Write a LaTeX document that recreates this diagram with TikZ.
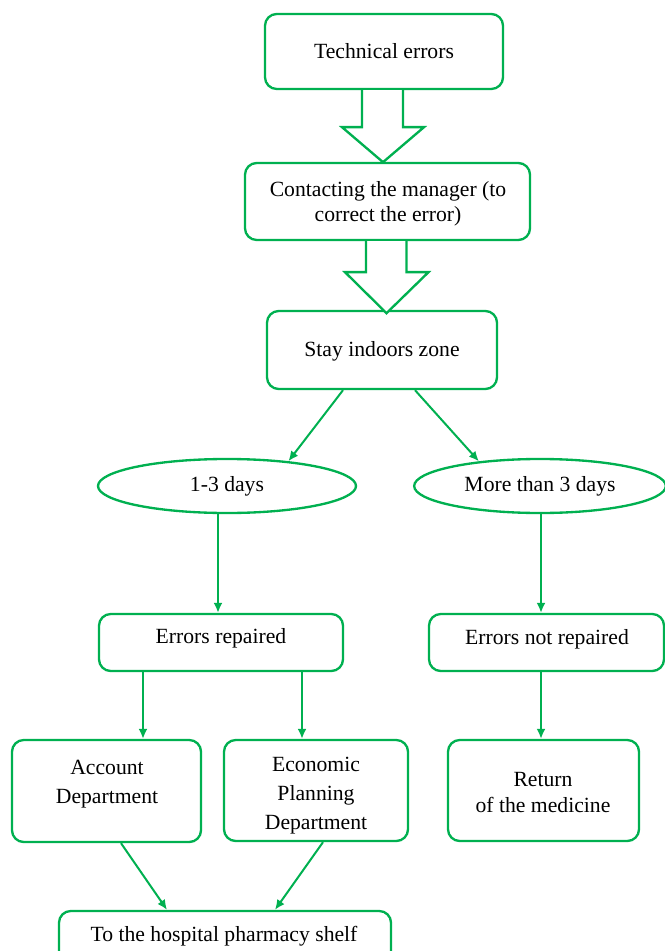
\documentclass[tikz,border=0pt]{standalone}
\usepackage{fontspec}
\setmainfont{Liberation Serif}
\usetikzlibrary{shapes.geometric,arrows.meta,fit,calc}
\definecolor{grn}{HTML}{00B050}
\tikzset{
  box/.style={draw=grn, line width=1.4pt, rounded corners=7pt, inner sep=0pt},
  oval/.style={draw=grn, line width=1.4pt, ellipse, inner sep=0pt, minimum width=154.8pt, minimum height=32.4pt, font=\fontsize{13}{15}\selectfont},
  txt/.style={font=\fontsize{13}{#1}\selectfont, align=center, inner sep=0pt},
  txt/.default=15,
  conn/.style={draw=grn, line width=1.2pt, -{Latex[length=6pt,width=5.4pt]}},
  hollow/.style={draw=grn, line width=1.4pt, fill=white, line join=miter},
}
\begin{document}
\begin{tikzpicture}[x=0.6pt,y=-0.6pt]
\useasboundingbox (0,0) rectangle (665,951);
% boxes
\node[box, fit={(265,14) (503,89)}] (b1) {};
\node[txt] (t1) at (384,51) {Technical errors};
\node[box, fit={(245,163) (530,240)}] (b2) {};
\node[txt] (t2) at (388,204) {Contacting the manager (to\\correct the error)};
\node[box, fit={(267,311) (497,389)}] (b3) {};
\node[txt] (t3) at (382,351) {Stay indoors zone};
\node[oval] (e1) at (227,486) {1-3 days};
\node[oval, minimum width=151pt] (e2) at (540,486) {More than 3 days};
\node[box, fit={(99,614) (343,671)}] (b4) {};
\node[txt] (t4) at (221,638) {Errors repaired};
\node[box, fit={(429,614) (664,671)}] (b5) {};
\node[txt] (t5) at (547,639) {Errors not repaired};
\node[box, fit={(12,740) (201,842)}] (b6) {};
\node[txt=17.4] (t6) at (107,784) {Account\\Department};
\node[box, fit={(224,740) (408,841)}] (b7) {};
\node[txt=17.4] (t7) at (316,796) {Economic\\Planning\\Department};
\node[box, fit={(448,740) (639,841)}] (b8) {};
\node[txt=15.6] (t8) at (543,793) {Return\\of the medicine};
\node[box, fit={(59,911) (391,975)}] (b9) {};
\node[txt] (t9) at (224,936) {To the hospital pharmacy shelf};
% hollow block arrows
\draw[hollow] ($(b1.south)+(-22,0)$) -- ++(0,37) -- ++(-20,0) -- ++(41,35) -- ++(41,-35) -- ++(-21,0) -- ++(0,-37);
\draw[hollow] ($(b2.south)+(-21.5,0)$) -- ++(0,31) -- ++(-21,0) -- ++(41.5,41) -- ++(42,-41) -- ++(-22,0) -- ++(0,-31);
% connectors
\coordinate (s1) at ($(b3.south)+(-39,0)$);
\coordinate (s2) at ($(b3.south)+(33,0)$);
\draw[conn] (s1) -- (e1.22);
\draw[conn] (s2) -- (e2.158);
\coordinate (s3) at ($(e1.south)+(-9,0)$);
\draw[conn] (s3) -- (s3 |- b4.north);
\coordinate (s4) at ($(e2.south)+(1,0)$);
\draw[conn] (s4) -- (s4 |- b5.north);
\coordinate (s5) at ($(b4.south)+(-78,0)$);
\draw[conn] (s5) -- (s5 |- b6.north);
\coordinate (s6) at ($(b4.south)+(81,0)$);
\draw[conn] (s6) -- (s6 |- b7.north);
\coordinate (s7) at ($(b5.south)+(-5.5,0)$);
\draw[conn] (s7) -- (s7 |- b8.north);
\coordinate (s8) at ($(b6.south)+(14.5,0)$);
\coordinate (d8) at ($(b9.north)+(-58,0)$);
\draw[conn] (s8) -- (d8);
\coordinate (s9) at ($(b7.south)+(7,0)$);
\coordinate (d9) at ($(b9.north)+(50,0)$);
\draw[conn] (s9) -- (d9);
\end{tikzpicture}
\end{document}
